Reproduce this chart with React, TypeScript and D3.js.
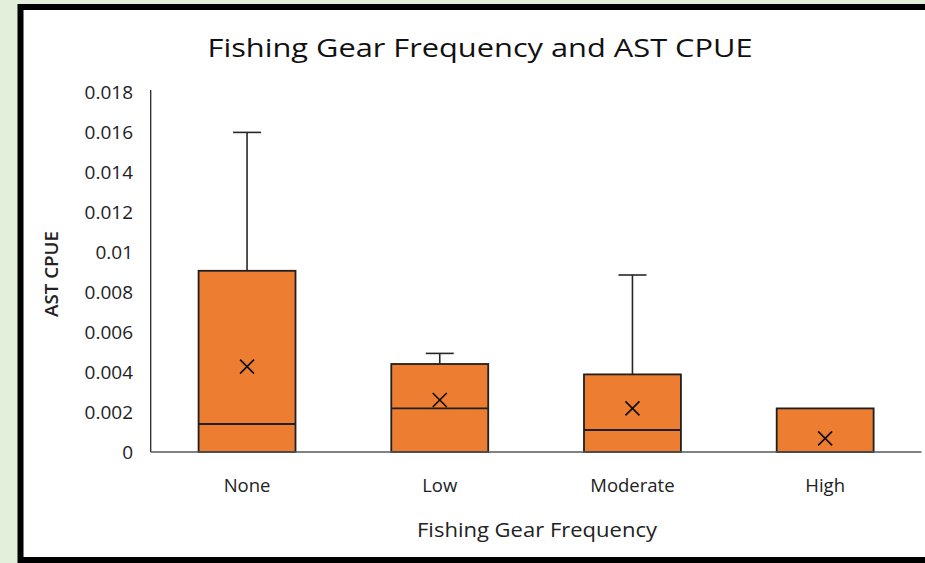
import React from "react";
import * as d3 from "d3";

const categories = ["None", "Low", "Moderate", "High"];
const minValues = [0, 0, 0, 0];
const q1Values = [0, 0, 0, 0];
const medianValues = [0.0014, 0.00218, 0.0011, 0];
const q3Values = [0.00906, 0.0044, 0.00388, 0.00218];
const maxValues = [0.01598, 0.00493, 0.00885, 0.00218];
const meanValues = [0.00427, 0.0026, 0.00218, 0.00068];
const yTicks = [0, 0.002, 0.004, 0.006, 0.008, 0.01, 0.012, 0.014, 0.016, 0.018];

const W = 925;
const H = 563;
const FONT = "'Open Sans', 'Noto Sans', sans-serif";

export default function App() {
  const x = d3.scaleBand<string>().domain(categories).range([150.7, 921.5]).paddingInner(0).paddingOuter(0);
  const y = d3.scaleLinear().domain([0, 0.018]).range([452, 92]);
  const bw = x.bandwidth() * 0.503;
  const capW = 28;
  const fmt = (v: number) => (v === 0 ? "0" : String(+v.toFixed(3)));

  return (
    <div style={{ position: "fixed", left: 0, top: 0 }}>
      <svg width={W} height={H} style={{ display: "block" }}>
        <rect x={0} y={0} width={W} height={H} fill="#E2EFDA" />
        <rect x={20.5} y={7} width={W + 20} height={553} fill="#ffffff" stroke="#000" strokeWidth={6} />
        <text x={480} y={57} textAnchor="middle" fontFamily={FONT} fontSize={26} fill="#111" textLength={545} lengthAdjust="spacingAndGlyphs">
          Fishing Gear Frequency and AST CPUE
        </text>
        {yTicks.map((t) => (
          <text key={t} x={133} y={y(t)} dy="0.36em" textAnchor="end" fontFamily={FONT} fontSize={19} fill="#222">
            {fmt(t)}
          </text>
        ))}
        <line x1={150.7} x2={150.7} y1={y(0.018) - 2} y2={y(0)} stroke="#262626" strokeWidth={1.3} />
        {categories.map((c, i) => {
          const cx = x(c)! + x.bandwidth() / 2;
          const x0 = cx - bw / 2;
          return (
            <g key={c}>
              {maxValues[i] > q3Values[i] && (
                <>
                  <line x1={cx} x2={cx} y1={y(maxValues[i])} y2={y(q3Values[i])} stroke="#262626" strokeWidth={1.6} />
                  <line x1={cx - capW / 2} x2={cx + capW / 2} y1={y(maxValues[i])} y2={y(maxValues[i])} stroke="#262626" strokeWidth={1.6} />
                </>
              )}
              {minValues[i] < q1Values[i] && (
                <line x1={cx} x2={cx} y1={y(minValues[i])} y2={y(q1Values[i])} stroke="#262626" strokeWidth={1.6} />
              )}
              <rect x={x0} y={y(q3Values[i])} width={bw} height={y(q1Values[i]) - y(q3Values[i])} fill="#ED7D31" stroke="#1f1f1f" strokeWidth={1.8} />
              <line x1={x0} x2={x0 + bw} y1={y(medianValues[i])} y2={y(medianValues[i])} stroke="#1f1f1f" strokeWidth={1.8} />
              <path
                d={`M${cx - 7},${y(meanValues[i]) - 7}L${cx + 7},${y(meanValues[i]) + 7}M${cx - 7},${y(meanValues[i]) + 7}L${cx + 7},${y(meanValues[i]) - 7}`}
                stroke="#111"
                strokeWidth={1.7}
                fill="none"
              />
              <text x={cx} y={485} dy="0.36em" textAnchor="middle" fontFamily={FONT} fontSize={18.5} fill="#222">
                {c}
              </text>
            </g>
          );
        })}
        <line x1={150.7} x2={921.5} y1={y(0)} y2={y(0)} stroke="#595959" strokeWidth={1.5} />
        <text x={537} y={530} dy="0.36em" textAnchor="middle" fontFamily={FONT} fontSize={20.5} fill="#222" textLength={240} lengthAdjust="spacingAndGlyphs">
          Fishing Gear Frequency
        </text>
        <text
          transform={`translate(52,274) rotate(-90)`}
          dy="0.36em"
          textAnchor="middle"
          fontFamily={FONT}
          fontSize={18}
          fontWeight={600}
          fill="#222"
          textLength={86}
          lengthAdjust="spacingAndGlyphs"
        >
          AST CPUE
        </text>
      </svg>
    </div>
  );
}
